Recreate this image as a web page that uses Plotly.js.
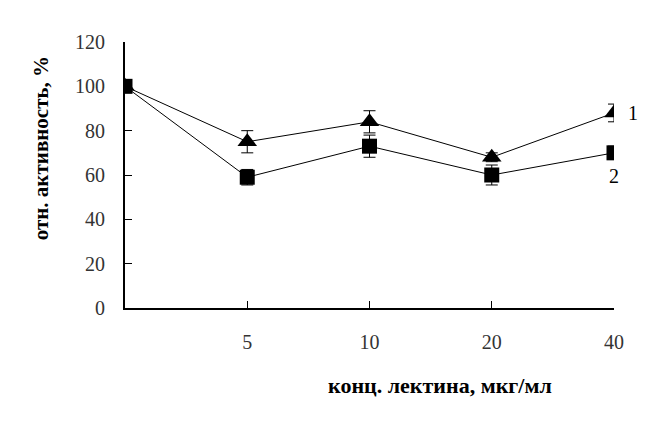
<!DOCTYPE html>
<html>
<head>
<meta charset="utf-8">
<script src="https://cdn.plot.ly/plotly-3.0.1.min.js"></script>
<style>
  body { margin: 0; background: #fff; }
  #chart { width: 668px; height: 430px; }
</style>
</head>
<body>
<div id="chart"></div>
<script>
// lectin concentration, µg/ml (first point = control, no label)
var conc = ["", "5", "10", "20", "40"];
var pos = [0, 1, 2, 3, 4];

// relative activity, %
var series1 = [100, 75, 84, 68, 88];
var err1 = [0, 5, 5, 2, 4];
var series2 = [100, 59, 73, 60, 70];
var err2 = [0, 3.5, 5, 4.5, 3];

var serif = "Liberation Serif, Times New Roman, serif";

var trace1 = {
  x: pos,
  y: series1,
  type: "scatter",
  mode: "lines+markers",
  line: {color: "#000", width: 1},
  marker: {symbol: "triangle-up", size: 17, color: "#000"},
  error_y: {type: "data", array: err1, color: "#000", thickness: 1, width: 6},
  showlegend: false
};

var trace2 = {
  x: pos,
  y: series2,
  type: "scatter",
  mode: "lines+markers",
  line: {color: "#000", width: 1},
  marker: {symbol: "square", size: 15, color: "#000"},
  error_y: {type: "data", array: err2, color: "#000", thickness: 1, width: 6},
  showlegend: false
};

var layout = {
  width: 668,
  height: 430,
  margin: {l: 125, r: 54, t: 42, b: 122},
  paper_bgcolor: "#fff",
  plot_bgcolor: "#fff",
  font: {family: serif, size: 15, color: "#000"},
  xaxis: {
    range: [0, 4],
    tickvals: pos.slice(1),
    ticktext: conc.slice(1),
    ticks: "inside",
    ticklen: 7,
    tickwidth: 1,
    tickcolor: "#000",
    ticklabelstandoff: 15,
    showline: true,
    linewidth: 2,
    linecolor: "#000",
    showgrid: false,
    zeroline: false,
    tickfont: {family: serif, size: 20, color: "#333"}
  },
  yaxis: {
    range: [0, 120],
    tickvals: [0, 20, 40, 60, 80, 100, 120],
    ticks: "inside",
    ticklen: 7,
    tickwidth: 1,
    tickcolor: "#000",
    ticklabelstandoff: 14,
    showline: true,
    linewidth: 2,
    linecolor: "#000",
    showgrid: false,
    zeroline: false,
    tickfont: {family: serif, size: 20, color: "#333"}
  },
  annotations: [
    {text: "<b>конц. лектина, мкг/мл</b>", xref: "paper", yref: "paper",
     x: 0.644, y: -0.29, xanchor: "center", yanchor: "middle", showarrow: false,
     font: {family: serif, size: 22, color: "#000"}},
    {text: "<b>отн. активность, %</b>", xref: "paper", yref: "paper",
     x: -0.17, y: 0.6, xanchor: "center", yanchor: "middle", showarrow: false,
     textangle: -90, font: {family: serif, size: 21, color: "#000"}},
    {text: "1", x: pos[4], y: series1[4], xref: "x", yref: "y",
     xanchor: "left", yanchor: "middle", xshift: 12, showarrow: false,
     font: {family: serif, size: 20, color: "#000"}},
    {text: "2", x: pos[4], y: series2[4], xref: "x", yref: "y",
     xanchor: "center", yanchor: "top", yshift: -10, showarrow: false,
     font: {family: serif, size: 20, color: "#000"}}
  ]
};

Plotly.newPlot("chart", [trace1, trace2], layout, {displayModeBar: false});
</script>
</body>
</html>
